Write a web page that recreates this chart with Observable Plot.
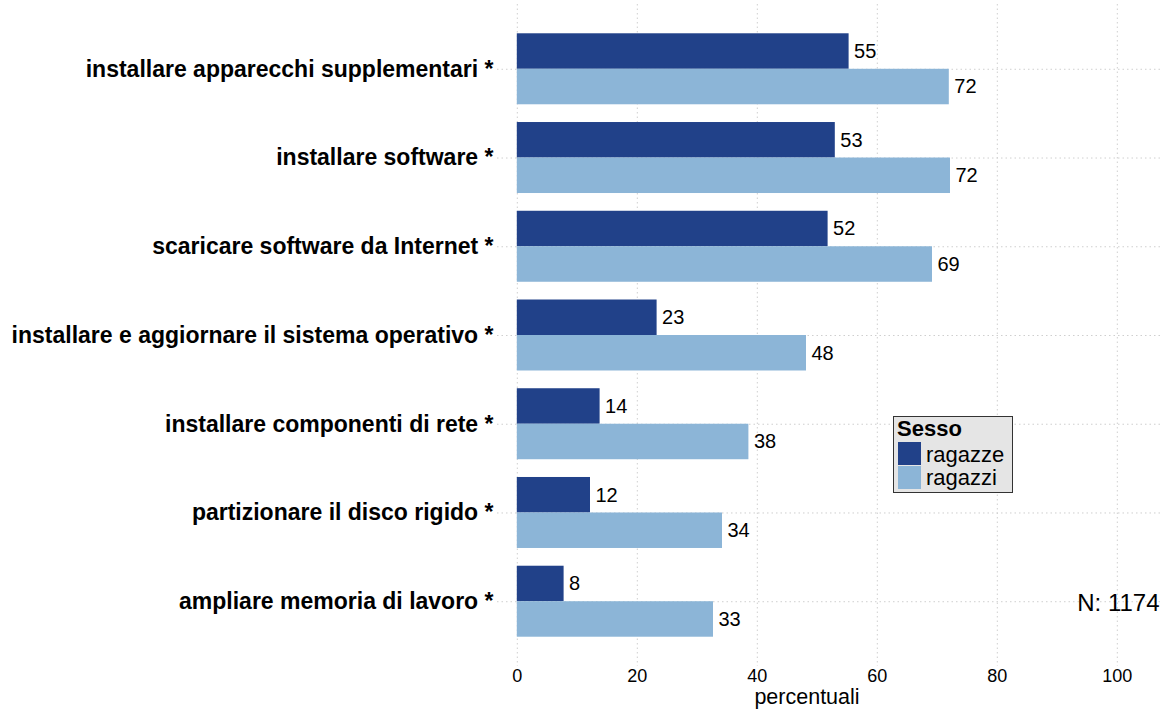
<!DOCTYPE html>
<html>
<head>
<meta charset="utf-8">
<script src="https://cdn.jsdelivr.net/npm/d3@7"></script>
<script src="https://cdn.jsdelivr.net/npm/@observablehq/plot@0.6"></script>
<style>
  html, body { margin: 0; padding: 0; background: #fff; }
  #wrap { position: relative; width: 1164px; height: 710px; font-family: "Liberation Sans", Arial, Helvetica, sans-serif; }
  #legend { position: absolute; left: 893px; top: 416px; width: 118px; height: 75px; background: #e5e5e5; border: 1px solid #333; }
  #legend .t { position: absolute; left: 3px; top: 1px; font-weight: bold; font-size: 22px; line-height: 22px; color: #000; }
  #legend .sw { position: absolute; left: 4px; width: 23px; height: 23px; }
  #legend .lb { position: absolute; left: 32px; font-size: 22px; line-height: 22px; color: #000; }
</style>
</head>
<body>
<div id="wrap">
  <div id="chart"></div>
  <div id="legend"></div>
</div>
<script>
const items = [
  "installare apparecchi supplementari *",
  "installare software *",
  "scaricare software da Internet *",
  "installare e aggiornare il sistema operativo *",
  "installare componenti di rete *",
  "partizionare il disco rigido *",
  "ampliare memoria di lavoro *"
];
const ragazze = [55.3, 53, 51.8, 23.3, 13.8, 12.2, 7.8];
const ragazzi = [72, 72.2, 69.2, 48.2, 38.6, 34.2, 32.7];
const labelsRagazze = ["55", "53", "52", "23", "14", "12", "8"];
const labelsRagazzi = ["72", "72", "69", "48", "38", "34", "33"];
const xTicks = [0, 20, 40, 60, 80, 100];
const seriesNames = ["ragazze", "ragazzi"];
const seriesColors = ["#214189", "#8cb5d7"];
const legendTitle = "Sesso";
const xTitle = "percentuali";
const note = "N: 1174";

const data = items.map((item, i) => ({
  item, ragazze: ragazze[i], ragazzi: ragazzi[i], lz: labelsRagazze[i], lm: labelsRagazzi[i]
}));

const W = 1164, H = 710, mt = 4, mb = 44, ml = 497, mr = 4;
const padIn = 0.2, padOut = 0.33;
const step = (H - mt - mb) / (items.length - padIn + 2 * padOut);
const bw = step * (1 - padIn);
const half = bw / 2;
const gridStyle = { stroke: "#cfcfcf", strokeDasharray: "1.5,3" };

const chart = Plot.plot({
  width: W, height: H,
  marginTop: mt, marginBottom: mb, marginLeft: ml, marginRight: mr,
  style: { fontFamily: '"Liberation Sans", Arial, Helvetica, sans-serif', color: "#000", background: "#fff" },
  x: { domain: [-3.3, 107.2] },
  y: { domain: items, paddingInner: padIn, paddingOuter: padOut, round: false },
  marks: [
    Plot.ruleX(xTicks, gridStyle),
    Plot.ruleY(items, { y: d => d, ...gridStyle }),
    Plot.barX(data, { x: "ragazze", y: "item", fill: seriesColors[0], insetBottom: half }),
    Plot.barX(data, { x: "ragazzi", y: "item", fill: seriesColors[1], insetTop: half }),
    Plot.text(data, { x: "ragazze", y: "item", text: "lz", dy: -half / 2, dx: 5, textAnchor: "start", fontSize: 20, fill: "#000" }),
    Plot.text(data, { x: "ragazzi", y: "item", text: "lm", dy: half / 2, dx: 5, textAnchor: "start", fontSize: 20, fill: "#000" }),
    Plot.axisX({ ticks: xTicks, tickSize: 0, tickPadding: 3, fontSize: 18, label: null }),
    Plot.axisY({ tickSize: 0, tickPadding: 4, fontSize: 23, fontWeight: "bold", label: null }),
    Plot.text([xTitle], { frameAnchor: "bottom", dy: 37, dx: -22, fontSize: 21.5, fill: "#000" }),
    Plot.text([note], { y: [items[items.length - 1]], frameAnchor: "right", textAnchor: "end", dx: -1, dy: 2, fontSize: 24, fill: "#000" })
  ]
});
document.getElementById("chart").appendChild(chart);

const lg = document.getElementById("legend");
lg.innerHTML = `<div class="t">${legendTitle}</div>` +
  seriesNames.map((s, i) =>
    `<div class="sw" style="top:${25 + i * 24}px;background:${seriesColors[i]}"></div>` +
    `<div class="lb" style="top:${27 + i * 23}px">${s}</div>`).join("");
</script>
</body>
</html>
